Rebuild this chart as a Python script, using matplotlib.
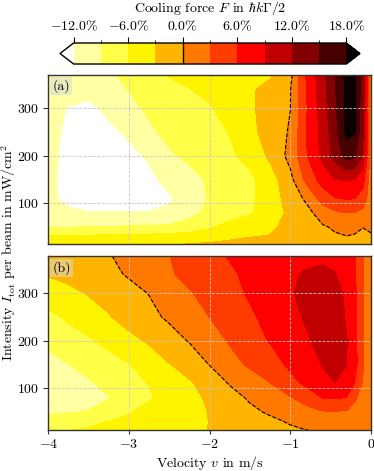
import numpy as np
import matplotlib
matplotlib.use("Agg")
import matplotlib.pyplot as plt
from matplotlib.colors import ListedColormap, BoundaryNorm
from matplotlib.ticker import FuncFormatter

plt.rcParams.update({
    "font.family": "serif",
    "font.serif": ["cmr10"],
    "mathtext.fontset": "cm",
    "axes.formatter.use_mathtext": True,
    "font.size": 10,
    "axes.edgecolor": "0.2",
    "axes.linewidth": 1.0,
})

# velocity grid (m/s) and intensity grids (mW/cm^2) for the two panels
velocity = [-4, -3.75, -3.5, -3.25, -3, -2.75, -2.5, -2.25, -2, -1.75,
            -1.5, -1.25, -1, -0.8, -0.6, -0.45, -0.3, -0.2, -0.1, 0]
intensity_a = [14, 30, 50, 80, 110, 150, 200, 250, 300, 340, 371]
intensity_b = [12, 30, 50, 80, 110, 150, 200, 250, 300, 340, 378]

# cooling force in % of hbar k Gamma / 2, one row per intensity
force_a = [
    [-4.2, -4.1, -4.0, -3.8, -3.6, -3.3, -3.05, -2.9, -2.7, -2.5, -2.3, -2.0, -1.7, -1.4, -1.1, -0.8, -0.6, -0.6, -0.7, -0.4],
    [-5.5, -5.5, -5.4, -5.3, -5.2, -5.0, -4.8, -4.5, -3.9, -3.4, -3.05, -2.9, -2.2, -1.6, -0.8, -0.3, -0.05, -0.2, -0.6, -0.2],
    [-9.1, -9.0, -8.9, -8.8, -8.7, -8.6, -8.4, -7.8, -6.3, -5.0, -4.2, -3.4, -2.3, -1.4, -0.3, 0.3, 0.6, 0.5, 0.05, 0.3],
    [-11.4, -11.8, -11.9, -11.9, -11.9, -11.9, -11.5, -9.8, -8.3, -7.2, -6.3, -4.6, -2.3, -0.9, 1.3, 2.5, 3.0, 2.9, 2.2, 0.8],
    [-11.7, -12.3, -12.9, -13.2, -13.2, -12.9, -12.3, -10.8, -8.7, -7.5, -6.5, -4.6, -1.7, 0.5, 4.2, 5.8, 6.2, 6.0, 4.8, 1.0],
    [-11.7, -12.4, -13.1, -13.4, -13.2, -12.6, -11.2, -10.0, -8.6, -7.6, -6.6, -4.4, -0.8, 3.8, 7.2, 8.9, 9.2, 8.9, 7.0, 1.2],
    [-11.6, -12.4, -13.0, -13.2, -12.6, -11.7, -9.4, -8.4, -7.6, -6.4, -5.2, -2.4, 0.9, 5.8, 9.8, 13.0, 16.2, 15.5, 11.5, 1.5],
    [-11.5, -12.3, -12.9, -12.6, -11.6, -9.5, -8.3, -7.4, -6.7, -5.9, -3.5, -2.2, 0.4, 6.0, 10.0, 13.8, 18.8, 18.2, 12.5, 1.5],
    [-11.4, -12.1, -12.6, -11.4, -9.8, -8.5, -7.8, -7.0, -6.3, -4.8, -3.3, -2.2, -0.05, 5.8, 10.5, 14.3, 18.7, 18.4, 13.0, 1.5],
    [-10.9, -11.2, -11.2, -10.2, -8.9, -7.6, -6.8, -6.05, -5.2, -4.3, -3.3, -2.3, -0.1, 6.0, 10.8, 14.6, 18.9, 18.5, 13.3, 1.5],
    [-10.5, -10.2, -9.8, -9.3, -8.5, -7.0, -5.8, -5.4, -5.0, -4.6, -4.2, -3.3, -0.8, 6.3, 11.0, 14.8, 19.0, 18.6, 13.5, 1.5],
]
force_b = [
    [-6.2, -6.0, -5.8, -5.4, -5.0, -4.5, -4.0, -3.5, -2.95, -2.4, -1.8, -1.1, -0.5, -0.05, 0.3, 0.4, 0.4, 0.3, 0.1, 0.2],
    [-7.0, -6.8, -6.5, -5.9, -5.4, -4.8, -4.2, -3.6, -2.95, -2.3, -1.5, -0.7, 0.3, 1.0, 1.4, 1.5, 1.4, 1.1, 0.6, 0.2],
    [-9.4, -9.2, -8.8, -7.6, -6.2, -5.0, -4.1, -3.5, -2.95, -1.9, -0.7, 0.4, 1.4, 2.2, 2.7, 2.8, 2.6, 2.0, 1.0, 0.2],
    [-11.2, -10.8, -10.2, -9.1, -7.9, -6.3, -5.0, -3.7, -2.6, -1.2, 0.4, 1.6, 2.8, 4.0, 6.1, 6.2, 5.9, 3.4, 1.8, 0.2],
    [-11.2, -10.4, -9.4, -8.1, -7.0, -5.9, -4.6, -3.3, -1.9, 0.2, 1.3, 2.9, 5.0, 6.6, 8.3, 8.95, 8.0, 5.8, 2.6, 0.2],
    [-10.0, -9.05, -8.0, -7.1, -6.1, -4.8, -3.1, -1.9, 0.1, 1.9, 3.5, 4.6, 6.6, 7.8, 9.1, 10.0, 9.0, 7.0, 3.4, 0.2],
    [-8.3, -7.3, -6.4, -5.2, -3.9, -2.6, -1.3, 0.2, 1.6, 3.3, 4.6, 6.2, 7.8, 8.7, 9.9, 10.3, 9.1, 6.9, 3.4, 0.2],
    [-6.8, -5.5, -4.3, -3.2, -1.7, -0.8, 0.5, 1.7, 3.05, 4.3, 5.5, 7.0, 8.3, 9.3, 10.1, 10.0, 8.8, 6.8, 3.4, 0.2],
    [-4.2, -3.7, -2.8, -1.9, -0.9, 0.1, 1.5, 2.8, 3.9, 5.0, 6.4, 7.8, 8.8, 9.6, 10.0, 9.6, 8.7, 6.6, 3.3, 0.2],
    [-2.8, -2.2, -1.5, -0.7, 0.3, 1.6, 2.7, 3.8, 4.8, 5.6, 6.6, 7.6, 8.6, 9.3, 9.6, 9.1, 8.2, 6.3, 3.2, 0.2],
    [-2.2, -1.6, -1.0, -0.2, 1.0, 2.0, 2.95, 4.2, 5.3, 6.2, 7.0, 7.6, 7.9, 8.2, 8.4, 8.3, 7.8, 6.05, 3.05, 0.2],
]

levels = np.arange(-12, 19, 3)
cbar_ticks = [-12, -6, 0, 6, 12, 18]

# hot_r sampled in 12 steps: under colour, 10 bands, over colour
hot_colors = plt.cm.hot_r(np.linspace(0, 1, len(levels) + 1))
cmap = ListedColormap(hot_colors[1:-1])
cmap.set_under(hot_colors[0])
cmap.set_over(hot_colors[-1])
norm = BoundaryNorm(levels, cmap.N)

fig = plt.figure(figsize=(3.74, 4.71), dpi=100)
ax_a = fig.add_axes([0.1291, 0.4813, 0.8628, 0.3601])
ax_b = fig.add_axes([0.1291, 0.0864, 0.8628, 0.3701])
cax = fig.add_axes([0.1604, 0.8641, 0.8021, 0.0446])

for ax, inten, force, tag in [(ax_a, intensity_a, force_a, "(a)"),
                              (ax_b, intensity_b, force_b, "(b)")]:
    F = np.array(force)
    cf = ax.contourf(velocity, inten, F, levels=levels, cmap=cmap, norm=norm, extend="both")
    ax.contour(velocity, inten, F, levels=[0], colors="k", linestyles="--", linewidths=0.8)
    ax.grid(True, linestyle="--", color="0.78", linewidth=0.6)
    ax.set_xticks([-4, -3, -2, -1, 0])
    ax.set_yticks([100, 200, 300])
    ax.tick_params(direction="out", length=3.5, pad=3, color="0.2")
    ax.text(0.012, 0.972, tag, transform=ax.transAxes, va="top", ha="left",
            bbox=dict(boxstyle="square,pad=0.15", fc="0.85", ec="none", alpha=0.55))

ax_a.tick_params(bottom=False, labelbottom=False)
ax_b.tick_params(axis="x", length=3, pad=2.5)
ax_b.set_xlabel("Velocity $v$ in m/s", labelpad=2)
fig.text(0.022, 1 - 252 / 471, r"Intensity $I_\mathrm{tot}$ per beam in $\mathrm{mW/cm^2}$",
         rotation=90, va="center", ha="center")

cbar = fig.colorbar(cf, cax=cax, orientation="horizontal", ticks=cbar_ticks,
                    format=FuncFormatter(lambda x, pos: rf"${x:.1f}\%$"))
cax.xaxis.set_ticks_position("top")
cax.xaxis.set_label_position("top")
cax.tick_params(length=4, pad=3)
cbar.set_label(r"Cooling force $F$ in $\hbar k\Gamma/2$", labelpad=5)
cbar.outline.set_edgecolor("k")
cax.axvline(0, color="k", linewidth=1.0)

fig.savefig("out.png", dpi=100)
